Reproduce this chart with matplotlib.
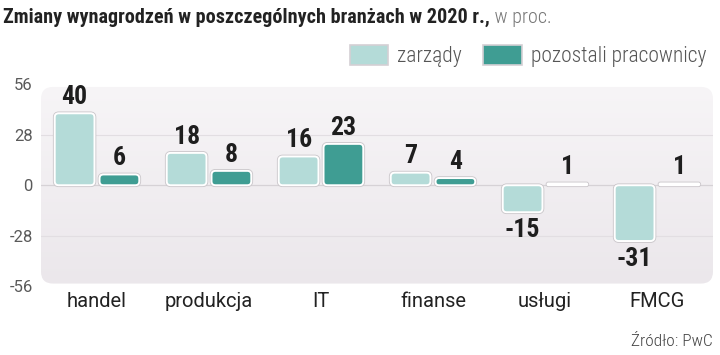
"""Zmiany wynagrodzeń w poszczególnych branżach w 2020 r. (PwC) - grouped bar chart."""
import matplotlib
matplotlib.use("Agg")
import matplotlib.pyplot as plt
import numpy as np
from matplotlib import font_manager
from matplotlib.colors import LinearSegmentedColormap
from matplotlib.patches import FancyBboxPatch, Patch

categories = ["handel", "produkcja", "IT", "finanse", "usługi", "FMCG"]
zarzady = [40, 18, 16, 7, -15, -31]
pozostali = [6, 8, 23, 4, 1, 1]
series_names = ["zarządy", "pozostali pracownicy"]
yticks = [56, 28, 0, -28, -56]

C_LIGHT, C_DARK = "#b4dbd8", "#3f9d93"

_names = {f.name for f in font_manager.fontManager.ttflist}
COND = next((n for n in ["Roboto Condensed", "Liberation Sans Narrow",
                         "Open Sans Condensed", "Noto Sans Condensed"] if n in _names), "Roboto")
REG = "Roboto" if "Roboto" in _names else "DejaVu Sans"

W, H = 720, 355
fig = plt.figure(figsize=(W / 100, H / 100), dpi=100)
ax_l, ax_r, ax_t, ax_b = 41, 713, 84.5, 286
ax = fig.add_axes([ax_l / W, 1 - ax_b / H, (ax_r - ax_l) / W, (ax_b - ax_t) / H])
ax.set_facecolor("none")
for s in ax.spines.values():
    s.set_visible(False)

px_x = (ax_r - ax_l) / len(categories)
px_y = (ax_b - ax_t) / 112

# background panel with soft vertical gradient
bg = FancyBboxPatch((0, 0.012), 1, 0.976, boxstyle="round,pad=0,rounding_size=0.018",
                    mutation_aspect=(ax_r - ax_l) / (ax_b - ax_t),
                    transform=ax.transAxes, facecolor="none", edgecolor="none", zorder=0)
ax.add_patch(bg)
cmap = LinearSegmentedColormap.from_list("bg", ["#ebe7eb", "#f7f5f7"])
grad = np.linspace(0, 1, 256).reshape(-1, 1)
im = ax.imshow(grad, extent=[0, 1, 0, 1], transform=ax.transAxes, origin="lower",
               aspect="auto", cmap=cmap, zorder=0)
im.set_clip_path(bg)
ax.set_xlim(-0.5, len(categories) - 0.5)
ax.set_ylim(-56, 56)

for yv in (28, -28):
    ax.axhline(yv, color="#e2dee2", lw=0.8, zorder=1)
ax.axhline(0, color="#d6d2d6", lw=0.9, zorder=1)

x = np.arange(len(categories))
off, bw = 0.2, 0.355
for vals, col, dx in ((zarzady, C_LIGHT, -off), (pozostali, C_DARK, off)):
    bars = ax.bar(x + dx, vals, bw, color=col)
    for rect, v in zip(bars, vals):
        rect.set_visible(False)
        x0, w = rect.get_x(), rect.get_width()
        y0, h = min(rect.get_y(), rect.get_y() + rect.get_height()), abs(rect.get_height())
        r_px = min(4.0, h * px_y / 2)
        for ec, lw, z in (("#c9c5c9", 2.6, 2), ("white", 1.4, 3)):
            ax.add_patch(FancyBboxPatch((x0, y0), w, h,
                                        boxstyle=f"round,pad=0,rounding_size={r_px / px_x}",
                                        mutation_aspect=px_x / px_y,
                                        facecolor=col, edgecolor=ec, lw=lw, zorder=z))
        ax.annotate(f"{v}", (rect.get_x() + w / 2, v), xytext=(0, 3 if v > 0 else -4),
                    textcoords="offset points", ha="center",
                    va="bottom" if v > 0 else "top", family=COND, fontweight="bold",
                    fontsize=18.5, color="#1e1e1e", zorder=4)

ax.set_xticks(x, categories, family=REG, fontsize=14.5, color="#222222")
ax.set_yticks(yticks, [str(t) for t in yticks], family=REG, fontsize=12,
              color="#5a5a5a")
ax.tick_params(axis="both", length=0)
ax.tick_params(axis="x", pad=4)
ax.tick_params(axis="y", pad=6)

t = fig.text(3 / W, 1 - 17 / H, "Zmiany wynagrodzeń w poszczególnych branżach w 2020 r.,",
             family=COND, fontweight="bold", fontsize=14.5, color="#222222", va="center")
ax.annotate(" w proc.", xy=(1, 0), xycoords=t, xytext=(0, 0), textcoords="offset points",
            va="bottom", ha="left", family=COND, fontweight="light", fontsize=14.5,
            color="#777777", annotation_clip=False)

handles = [Patch(facecolor=C_LIGHT, edgecolor="#d4d0d4", lw=1.2),
           Patch(facecolor=C_DARK, edgecolor="#d4d0d4", lw=1.2)]
fig.legend(handles, series_names, loc="center right", bbox_to_anchor=(717 / W, 1 - 56 / H),
           ncol=2, frameon=False, prop={"family": COND, "size": 15.5, "weight": "light"},
           handlelength=1.8, handleheight=1.05, handletextpad=0.4, columnspacing=1.0,
           borderpad=0, labelcolor="#555555")

fig.text(713 / W, 1 - 341 / H, "Źródło: PwC", ha="right", va="center",
         family=COND, fontweight="light", fontsize=12.5, color="#444444")

fig.savefig("out.png", dpi=100)
